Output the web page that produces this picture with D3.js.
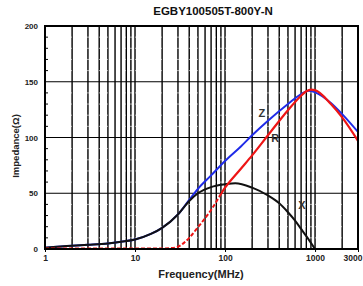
<!DOCTYPE html>
<html>
<head>
<meta charset="utf-8">
<script src="https://cdn.jsdelivr.net/npm/d3@7/dist/d3.min.js"></script>
<style>
    body { margin: 0; background: #fff; }
    svg { display: block; font-family: "Liberation Sans", Arial, sans-serif; }
</style>
</head>
<body>
<div id="chart"></div>
<script>
// values
const zFreq = [1, 2, 3, 5, 7, 10, 15, 20, 30, 40, 50, 70, 100, 150, 200, 300, 500, 700, 850, 1000, 1500, 2000, 3000];
const zValues = [1.2, 3, 3.8, 5, 6.5, 8.5, 13.5, 19, 31, 44, 54, 66, 79, 92, 102, 115, 130, 139, 142, 140.5, 131, 121, 105];

const rFreq = [1, 5, 10, 20, 25, 30, 35, 40, 50, 70, 100, 150, 200, 300, 500, 700, 800, 900, 1000, 1500, 2000, 3000];
const rValues = [0.5, 0.5, 0.5, 0.5, 0.8, 2, 5.5, 10, 19.5, 35, 55, 72, 84, 102, 124.5, 137.5, 141.5, 143, 142.5, 130, 118, 97];

const xFreq = [1, 2, 3, 5, 7, 10, 15, 20, 30, 40, 50, 70, 100, 130, 200, 300, 400, 500, 600, 700, 800, 900, 1000];
const xValues = [1.2, 3, 3.8, 5, 6.5, 8.5, 13.5, 19, 31, 43, 50, 55.5, 58, 59, 55, 48, 41, 33, 25.5, 18, 11.5, 5.5, 0];

const xTicks = [1, 10, 100, 1000, 3000];
const yTicks = [0, 50, 100, 150, 200];
const rDashedBelow = 90; // R is drawn dashed up to this frequency

const w = 363, h = 286;
const margin = { top: 26, right: 5, bottom: 37, left: 45 };

const svg = d3.select('#chart').append('svg')
    .attr('width', w)
    .attr('height', h);

const xScale = d3.scaleLog()
    .domain([1, 3000])
    .range([margin.left, w - margin.right]);

const yScale = d3.scaleLinear()
    .domain([0, 200])
    .range([h - margin.bottom, margin.top]);

const x0 = xScale.range()[0], x1 = xScale.range()[1];
const y0 = yScale.range()[0], y1 = yScale.range()[1];

// title
svg.append('text')
    .attr('x', 213)
    .attr('y', 15)
    .attr('text-anchor', 'middle')
    .attr('font-size', '11.5px')
    .attr('font-weight', 'bold')
    .attr('fill', '#111')
    .text('EGBY100505T-800Y-N');

// vertical grid (1..9 in every decade)
let gridFreqs = [];
for (let d = 1; d <= 1000; d *= 10) {
    for (let m = 1; m <= 9; m++) {
        let f = m * d;
        if (f > 1 && f < 3000) gridFreqs.push(f);
    }
}
svg.append('g')
    .selectAll('line')
    .data(gridFreqs)
    .enter()
    .append('line')
    .attr('x1', d => xScale(d))
    .attr('x2', d => xScale(d))
    .attr('y1', y1)
    .attr('y2', y0)
    .attr('stroke', '#000')
    .attr('stroke-width', 1.4);

// faint minor horizontal grid, shows as light breaks on the black lines
svg.append('g')
    .selectAll('line')
    .data(d3.range(10, 200, 10).filter(v => v % 50 !== 0))
    .enter()
    .append('line')
    .attr('x1', x0)
    .attr('x2', x1)
    .attr('y1', d => yScale(d))
    .attr('y2', d => yScale(d))
    .attr('stroke', '#fff')
    .attr('stroke-opacity', 0.75)
    .attr('stroke-width', 0.8)
    .attr('stroke-dasharray', '3,3');

// horizontal grid
svg.append('g')
    .selectAll('line')
    .data([50, 100, 150])
    .enter()
    .append('line')
    .attr('x1', x0)
    .attr('x2', x1)
    .attr('y1', d => yScale(d))
    .attr('y2', d => yScale(d))
    .attr('stroke', '#000')
    .attr('stroke-width', 1);

// y axis
const yAxis = d3.axisLeft(yScale)
    .tickValues(yTicks)
    .tickSize(0)
    .tickPadding(7);
const gy = svg.append('g')
    .attr('transform', 'translate(' + x0 + ',0)')
    .call(yAxis);
gy.select('.domain').remove();
gy.selectAll('text')
    .attr('font-size', '8px')
    .attr('font-weight', 'bold')
    .attr('fill', '#222')
    .attr('font-family', '"Liberation Sans", Arial, sans-serif');

// y minor ticks (inside)
svg.append('g')
    .selectAll('line')
    .data(d3.range(10, 200, 10).filter(v => v % 50 !== 0))
    .enter()
    .append('line')
    .attr('x1', x0)
    .attr('x2', x0 + 3)
    .attr('y1', d => yScale(d))
    .attr('y2', d => yScale(d))
    .attr('stroke', '#000')
    .attr('stroke-width', 1);

// x axis
const xAxis = d3.axisBottom(xScale)
    .tickValues(xTicks)
    .tickFormat(d3.format('d'))
    .tickSize(3)
    .tickPadding(3);
const gx = svg.append('g')
    .attr('transform', 'translate(0,' + y0 + ')')
    .call(xAxis);
gx.select('.domain').remove();
gx.selectAll('text')
    .attr('font-size', '8.5px')
    .attr('font-weight', 'bold')
    .attr('fill', '#222')
    .attr('font-family', '"Liberation Sans", Arial, sans-serif');
// last label sits at the right edge, keep it inside the picture
gx.selectAll('.tick')
    .filter(d => d === 3000)
    .select('text')
    .attr('text-anchor', 'end')
    .attr('x', w - 1 - xScale(3000));

// curves
const line = (fs) => d3.line()
    .x((d, i) => xScale(fs[i]))
    .y(d => yScale(d))
    .curve(d3.curveMonotoneX);

const clip = svg.append('defs');
clip.append('clipPath').attr('id', 'plotArea')
    .append('rect')
    .attr('x', x0).attr('y', y1)
    .attr('width', x1 - x0).attr('height', y0 - y1);
clip.append('clipPath').attr('id', 'rLow')
    .append('rect')
    .attr('x', x0).attr('y', y1 - 5)
    .attr('width', xScale(rDashedBelow) - x0).attr('height', y0 - y1 + 10);
clip.append('clipPath').attr('id', 'rHigh')
    .append('rect')
    .attr('x', xScale(rDashedBelow)).attr('y', y1 - 5)
    .attr('width', x1 - xScale(rDashedBelow)).attr('height', y0 - y1 + 10);

const curves = svg.append('g').attr('clip-path', 'url(#plotArea)');

curves.append('path')
    .datum(zValues)
    .attr('d', line(zFreq))
    .attr('fill', 'none')
    .attr('stroke', '#1f2be8')
    .attr('stroke-width', 2);

curves.append('path')
    .datum(xValues)
    .attr('d', line(xFreq))
    .attr('fill', 'none')
    .attr('stroke', '#111')
    .attr('stroke-width', 2);

curves.append('path')
    .datum(rValues)
    .attr('d', line(rFreq))
    .attr('clip-path', 'url(#rLow)')
    .attr('fill', 'none')
    .attr('stroke', '#ee1515')
    .attr('stroke-width', 2)
    .attr('stroke-dasharray', '4,2');

curves.append('path')
    .datum(rValues)
    .attr('d', line(rFreq))
    .attr('clip-path', 'url(#rHigh)')
    .attr('fill', 'none')
    .attr('stroke', '#ee1515')
    .attr('stroke-width', 2.2);

// frame
svg.append('rect')
    .attr('x', x0)
    .attr('y', y1)
    .attr('width', x1 - x0)
    .attr('height', y0 - y1)
    .attr('fill', 'none')
    .attr('stroke', '#000')
    .attr('stroke-width', 2);

// curve labels
const curveLabels = [
    { t: 'Z', f: 257, v: 122 },
    { t: 'R', f: 360, v: 99 },
    { t: 'X', f: 717, v: 39 }
];
svg.append('g')
    .selectAll('text')
    .data(curveLabels)
    .enter()
    .append('text')
    .attr('x', d => xScale(d.f))
    .attr('y', d => yScale(d.v))
    .attr('dy', '0.35em')
    .attr('text-anchor', 'middle')
    .attr('font-size', '11px')
    .attr('font-weight', 'bold')
    .attr('fill', '#333')
    .text(d => d.t);

// axis titles
svg.append('text')
    .attr('x', 201)
    .attr('y', 278)
    .attr('text-anchor', 'middle')
    .attr('font-size', '11px')
    .attr('font-weight', 'bold')
    .attr('fill', '#222')
    .text('Frequency(MHz)');

svg.append('text')
    .attr('transform', 'translate(19,146) rotate(-90)')
    .attr('text-anchor', 'middle')
    .attr('font-size', '9.5px')
    .attr('font-weight', 'bold')
    .attr('fill', '#222')
    .text('Impedance(Ω)');
</script>
</body>
</html>
